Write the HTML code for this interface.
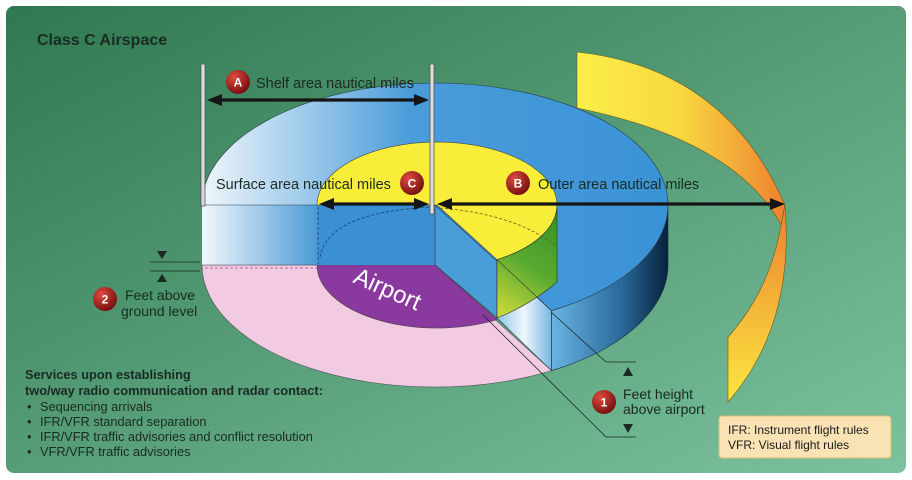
<!DOCTYPE html>
<html><head><meta charset="utf-8"><style>
html,body{margin:0;padding:0;background:#fff;}
svg{display:block;font-family:"Liberation Sans",Arial,sans-serif;}
</style></head><body>
<svg width="912" height="480" viewBox="0 0 912 480" xmlns="http://www.w3.org/2000/svg">
<defs>
<linearGradient id="bg" x1="0" y1="0" x2="1" y2="1">
<stop offset="0" stop-color="#2f7850"/><stop offset="1" stop-color="#7cc29f"/></linearGradient>
<linearGradient id="topb" x1="202" y1="0" x2="668" y2="0" gradientUnits="userSpaceOnUse">
<stop offset="0" stop-color="#f0f6fb"/><stop offset="0.45" stop-color="#4a9cda"/><stop offset="1" stop-color="#3a92d6"/></linearGradient>
<linearGradient id="rw" x1="551" y1="0" x2="668" y2="0" gradientUnits="userSpaceOnUse">
<stop offset="0" stop-color="#6ab4e4"/><stop offset="0.6" stop-color="#2a6a9a"/><stop offset="1" stop-color="#06223c"/></linearGradient>
<linearGradient id="lf" x1="202" y1="0" x2="318" y2="0" gradientUnits="userSpaceOnUse">
<stop offset="0" stop-color="#f4f8fc"/><stop offset="1" stop-color="#4a9ad6"/></linearGradient>
<linearGradient id="of" x1="497" y1="0" x2="551" y2="0" gradientUnits="userSpaceOnUse">
<stop offset="0" stop-color="#8cc6ea"/><stop offset="0.5" stop-color="#eef6fc"/><stop offset="1" stop-color="#7ab8e2"/></linearGradient>
<linearGradient id="gr" x1="497" y1="310" x2="557" y2="220" gradientUnits="userSpaceOnUse">
<stop offset="0" stop-color="#c8d83c"/><stop offset="0.5" stop-color="#5aaa30"/><stop offset="1" stop-color="#3a9428"/></linearGradient>
<linearGradient id="rib" x1="577" y1="0" x2="785" y2="0" gradientUnits="userSpaceOnUse">
<stop offset="0" stop-color="#fbee48"/><stop offset="0.5" stop-color="#f8d840"/><stop offset="1" stop-color="#ee8230"/></linearGradient>
<linearGradient id="rib2" x1="0" y1="210" x2="0" y2="402" gradientUnits="userSpaceOnUse">
<stop offset="0" stop-color="#ee8230"/><stop offset="1" stop-color="#fae840"/></linearGradient>
<radialGradient id="bd" cx="0.35" cy="0.3" r="0.8">
<stop offset="0" stop-color="#e04a40"/><stop offset="1" stop-color="#6a0a0a"/></radialGradient>
</defs>
<rect x="6" y="6" width="900" height="467" rx="8" fill="url(#bg)"/>
<text x="37" y="45" font-size="16" font-weight="bold" fill="#1a2a22">Class C Airspace</text>

<!-- ribbon -->
<path d="M577,52 Q725,68 785,205 L781,225 Q735,140 577,108 Z" fill="url(#rib)" stroke="#6a5a20" stroke-width="0.6"/>
<path d="M785,205 Q795,325 728,402 L728,337 Q770,290 781,225 Z" fill="url(#rib2)" stroke="#6a5a20" stroke-width="0.6"/>

<!-- floor -->
<path d="M435,265 L551.5,370.7 A233,122 0 0 1 202,265 Z" fill="#f2cbe3" stroke="#555" stroke-width="0.6"/>
<path d="M435,265 L497,319.6 A120,63 0 0 1 317,265 Z" fill="#8a3a9e" stroke="#444" stroke-width="0.6"/>
<text x="0" y="0" font-size="24" fill="#fff" transform="translate(352,282) rotate(24)">Airport</text>

<!-- left face -->
<rect x="202" y="205" width="233" height="60" fill="url(#lf)"/>
<rect x="318" y="205" width="117" height="60" fill="#3a90d2"/>
<!-- right cut faces -->
<polygon points="435,205 497,259.6 497,318 435,265" fill="#4a9ed8" stroke="#333" stroke-width="0.6"/>
<polygon points="497,259.6 551.5,310.7 551.5,370.7 497,318" fill="url(#of)" stroke="#333" stroke-width="0.6"/>

<!-- top surfaces -->
<path d="M668,205 A233,122 0 0 1 551.5,310.7 L551.5,370.7 A233,122 0 0 0 668,265 Z" fill="url(#rw)" stroke="#1a2a3a" stroke-width="0.6"/>
<path d="M435,205 L551.5,310.7 A233,122 0 1 0 202,205 Z" fill="url(#topb)" stroke="#2a3a4a" stroke-width="0.6"/>
<path d="M437,205 L497,259.6 A120,63 0 1 0 317,205 Z" fill="#f8ee3a" stroke="#444" stroke-width="0.6"/>
<path d="M557,205 A120,63 0 0 1 497,259.6 L497,318 Q530,305 557,282 Z" fill="url(#gr)" stroke="#333" stroke-width="0.6"/>
<line x1="497" y1="259.6" x2="551.5" y2="310.7" stroke="#333" stroke-width="0.6"/>

<!-- dashed -->
<line x1="205" y1="268" x2="317" y2="268" stroke="#a04a7a" stroke-width="0.8" stroke-dasharray="3,2"/>
<line x1="318" y1="207" x2="318" y2="264" stroke="#1a3a6a" stroke-width="0.8" stroke-dasharray="3,2"/>
<path d="M320,257 Q328,212 433,207" fill="none" stroke="#1a3a6a" stroke-width="0.8" stroke-dasharray="3,2"/>
<path d="M440,208 Q515,214 556,246" fill="none" stroke="#5a5a20" stroke-width="0.8" stroke-dasharray="3,2"/>
<line x1="202" y1="265" x2="317" y2="265" stroke="#445" stroke-width="0.6"/>

<!-- posts -->
<rect x="201" y="64" width="4" height="142" fill="#dcdcdc" stroke="#555" stroke-width="0.8"/>
<rect x="430" y="64" width="4" height="150" fill="#dcdcdc" stroke="#555" stroke-width="0.8"/>

<!-- arrows -->
<g stroke="#151515" stroke-width="3.2">
<line x1="214" y1="100" x2="422" y2="100"/>
<line x1="326" y1="204" x2="422" y2="204"/>
<line x1="444" y1="204" x2="776" y2="204"/>
</g>
<g fill="#151515">
<polygon points="207,100 222,94 222,106"/><polygon points="429,100 414,94 414,106"/>
<polygon points="319,204 334,198 334,210"/><polygon points="429,204 414,198 414,210"/>
<polygon points="437,204 452,198 452,210"/><polygon points="785,204 770,198 770,210"/>
</g>

<!-- labels -->
<g font-size="14.5" fill="#1a2a22">
<text x="256" y="88">Shelf area nautical miles</text>
<text x="216" y="189">Surface area nautical miles</text>
<text x="538" y="189">Outer area nautical miles</text>
</g>
<g font-weight="bold" font-size="12" fill="#fff" text-anchor="middle">
<circle cx="238" cy="82" r="12" fill="url(#bd)"/><text x="238" y="86.5">A</text>
<circle cx="412" cy="183" r="12" fill="url(#bd)"/><text x="412" y="187.5">C</text>
<circle cx="518" cy="183" r="12" fill="url(#bd)"/><text x="518" y="187.5">B</text>
<circle cx="105" cy="299" r="12" fill="url(#bd)"/><text x="105" y="303.5">2</text>
<circle cx="604" cy="402" r="12" fill="url(#bd)"/><text x="604" y="406.5">1</text>
</g>

<!-- feet above ground marker -->
<g stroke="#1a2a22" stroke-width="0.8">
<line x1="150" y1="262" x2="200" y2="262"/><line x1="150" y1="271" x2="200" y2="271"/>
</g>
<polygon points="157,251 167,251 162,259" fill="#1a2a22"/>
<polygon points="157,282 167,282 162,274" fill="#1a2a22"/>
<text x="125" y="300" font-size="14" fill="#1a2a22">Feet above</text>
<text x="121" y="316" font-size="14" fill="#1a2a22">ground level</text>

<!-- feet height marker -->
<g stroke="#1a2a22" stroke-width="0.8" fill="none">
<polyline points="551,312 606,362 636,362"/>
<polyline points="483,315 606,437 636,437"/>
</g>
<polygon points="623,376 633,376 628,367" fill="#1a2a22"/>
<polygon points="623,424 633,424 628,433" fill="#1a2a22"/>
<text x="623" y="399" font-size="14" fill="#1a2a22">Feet height</text>
<text x="623" y="414" font-size="14" fill="#1a2a22">above airport</text>

<!-- services -->
<g font-size="12.8" fill="#1a2a22">
<text x="25" y="379" font-weight="bold">Services upon establishing</text>
<text x="25" y="395" font-weight="bold">two/way radio communication and radar contact:</text>
<text x="27" y="411">•</text><text x="40" y="411">Sequencing arrivals</text>
<text x="27" y="426">•</text><text x="40" y="426">IFR/VFR standard separation</text>
<text x="27" y="441">•</text><text x="40" y="441">IFR/VFR traffic advisories and conflict resolution</text>
<text x="27" y="456">•</text><text x="40" y="456">VFR/VFR traffic advisories</text>
</g>

<!-- legend -->
<rect x="719" y="416" width="172" height="42" rx="3" fill="#f9e2b4" stroke="#e0bc70" stroke-width="1"/>
<text x="728" y="434" font-size="12" fill="#1a1a1a">IFR: Instrument flight rules</text>
<text x="728" y="449" font-size="12" fill="#1a1a1a">VFR: Visual flight rules</text>
</svg>
</body></html>
